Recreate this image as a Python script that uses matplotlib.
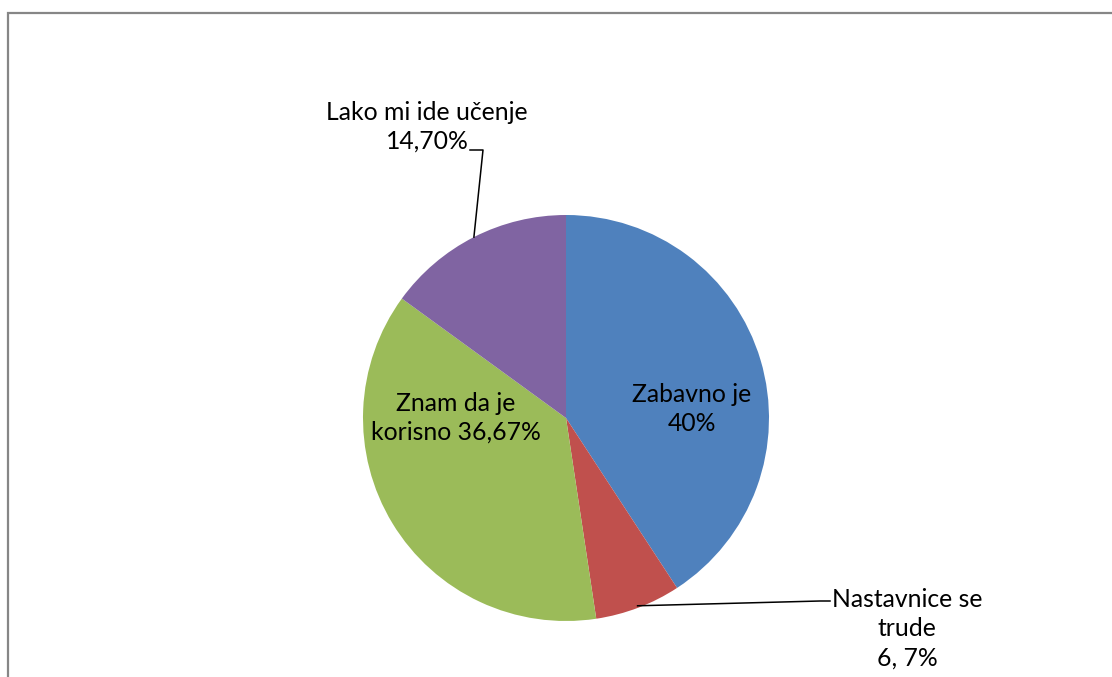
import matplotlib.pyplot as plt
import numpy as np

# survey answers, share in percent
categories = ['Zabavno je', 'Nastavnice se\ntrude', 'Znam da je\nkorisno', 'Lako mi ide učenje']
values = [40, 6.7, 36.67, 14.70]
value_labels = ['40%', '6, 7%', '36,67%', '14,70%']
colors = ['#4F81BD', '#C0504D', '#9BBB59', '#8064A2']

W, H = 1112, 677
fig = plt.figure(figsize=(W / 100, H / 100), dpi=100)
ax = fig.add_axes([0, 0, 1, 1])

cx, cy, r = 566, H - 418, 203
wedges, _ = ax.pie(values, colors=colors, startangle=90, counterclock=False,
                   center=(cx, cy), radius=r, wedgeprops=dict(linewidth=0))
ax.set_xlim(0, W)
ax.set_ylim(0, H)
ax.set_aspect('equal')
ax.axis('off')

font = dict(family='Lato', fontsize=17.8, linespacing=1.32, color='black',
            ha='center', va='center')

# labels inside the two big slices
ax.text(692, H - 409, categories[0] + '\n' + value_labels[0], **font)
ax.text(456, H - 418, categories[2] + ' ' + value_labels[2], **font)

# outside labels with leader lines
ax.text(427, H - 127, categories[3] + '\n' + value_labels[3], **font)
ax.text(907, H - 629, categories[1] + '\n' + value_labels[1], **font)


def edge_point(w, k=1.0):
    a = np.deg2rad((w.theta1 + w.theta2) / 2)
    return cx + k * r * np.cos(a), cy + k * r * np.sin(a)


px, py = edge_point(wedges[3])
ax.plot([470, 483, px], [H - 150, H - 150, py], color='black', lw=1.1)
qx, qy = edge_point(wedges[1], 0.99)
ax.plot([qx, 820, 830], [qy, H - 601, H - 601], color='black', lw=1.1)

# chart area frame (cut off at right and bottom)
ax.plot([7.5, 7.5, W + 5], [-5, H - 13, H - 13], color='#868686', lw=1.6,
        clip_on=False, solid_joinstyle='miter')

fig.savefig('out.png', dpi=100)
